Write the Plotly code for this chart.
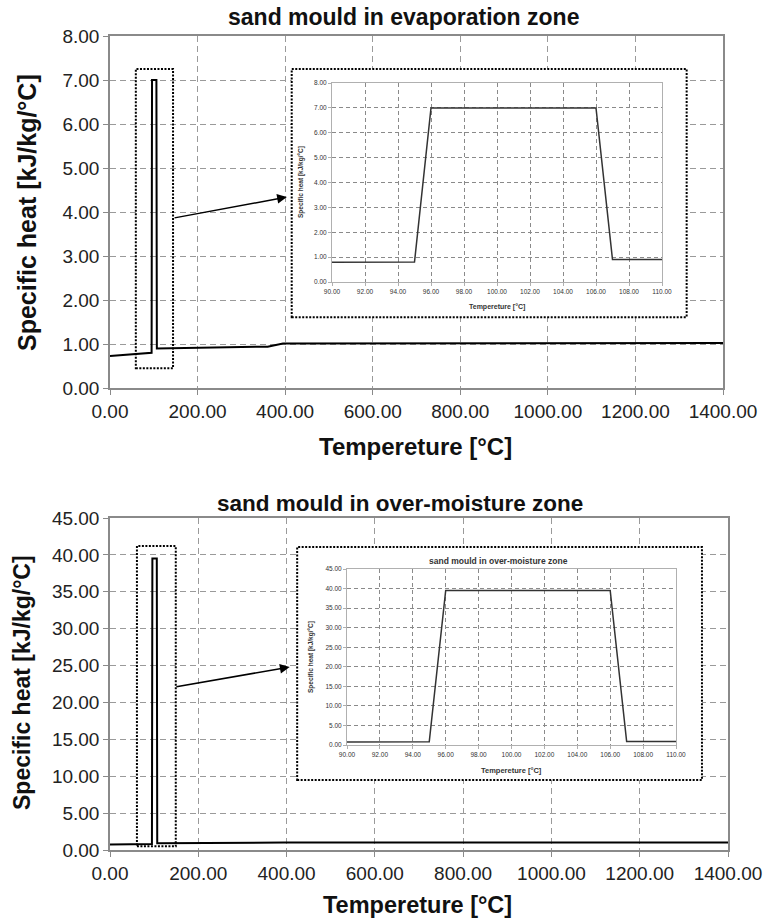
import plotly.graph_objects as go

# Specific heat of the sand mould vs temperature
temperature = [0, 95, 96, 106, 107, 360, 395, 1400]
cp_evaporation = [0.73, 0.80, 7.00, 7.00, 0.90, 0.94, 1.01, 1.02]
cp_over_moisture = [0.73, 0.80, 39.50, 39.50, 0.90, 0.94, 1.01, 1.02]

main_x_ticks = [0, 200, 400, 600, 800, 1000, 1200, 1400]
zoom_x_ticks = [90, 92, 94, 96, 98, 100, 102, 104, 106, 108, 110]

title_top = "sand mould in evaporation zone"
title_bottom = "sand mould in over-moisture zone"
x_title = "Tempereture [°C]"
y_title = "Specific heat [kJ/kg/°C]"

W, H = 765, 919
FONT = "Liberation Sans, Arial, sans-serif"


def px_x(p):
    return p / W


def px_y(p):
    return 1 - p / H


fig = go.Figure()

fig.add_trace(go.Scatter(x=temperature, y=cp_evaporation, mode="lines",
                         line=dict(color="black", width=2), xaxis="x", yaxis="y"))
fig.add_trace(go.Scatter(x=temperature, y=cp_over_moisture, mode="lines",
                         line=dict(color="black", width=2), xaxis="x2", yaxis="y2"))
fig.add_trace(go.Scatter(x=temperature, y=cp_evaporation, mode="lines",
                         line=dict(color="#333333", width=1.5), xaxis="x3", yaxis="y3"))
fig.add_trace(go.Scatter(x=temperature, y=cp_over_moisture, mode="lines",
                         line=dict(color="#333333", width=1.5), xaxis="x4", yaxis="y4"))

main_axis = dict(showgrid=True, gridcolor="#9a9a9a", griddash="6px,4px", gridwidth=1,
                 showline=True, linecolor="#8a8a8a", linewidth=1.5, mirror=True,
                 ticks="outside", ticklen=5, tickcolor="#8a8a8a", zeroline=False,
                 automargin=False, tickformat=".2f",
                 tickfont=dict(family=FONT, size=19, color="#222"))
zoom_axis = dict(showgrid=True, gridcolor="#8a8a8a", griddash="4px,3px", gridwidth=1,
                 showline=True, linecolor="#b0b0b0", linewidth=1, mirror=True,
                 ticks="outside", ticklen=3, tickcolor="#b0b0b0", zeroline=False,
                 automargin=False, tickformat=".2f",
                 tickfont=dict(family=FONT, size=6.5, color="#333"))

fig.update_layout(
    width=W, height=H, margin=dict(l=0, r=0, t=0, b=0, pad=0, autoexpand=False),
    paper_bgcolor="white", plot_bgcolor="white", showlegend=False,
    xaxis=dict(main_axis, domain=[px_x(110), px_x(723)], range=[0, 1400],
               tickvals=main_x_ticks, anchor="y"),
    yaxis=dict(main_axis, domain=[px_y(388), px_y(36)], range=[0, 8], dtick=1, anchor="x"),
    xaxis2=dict(main_axis, domain=[px_x(110), px_x(728)], range=[0, 1400],
                tickvals=main_x_ticks, anchor="y2"),
    yaxis2=dict(main_axis, domain=[px_y(850), px_y(518)], range=[0, 45], dtick=5, anchor="x2"),
    xaxis3=dict(zoom_axis, domain=[px_x(332), px_x(662)], range=[90, 110],
                tickvals=zoom_x_ticks, anchor="y3"),
    yaxis3=dict(zoom_axis, domain=[px_y(282), px_y(83)], range=[0, 8], dtick=1, anchor="x3"),
    xaxis4=dict(zoom_axis, domain=[px_x(347), px_x(676)], range=[90, 110],
                tickvals=zoom_x_ticks, anchor="y4"),
    yaxis4=dict(zoom_axis, domain=[px_y(745), px_y(569)], range=[0, 45], dtick=5, anchor="x4"),
)

dotted = dict(color="black", width=2, dash="2px,1.5px")

# framed zoom panels (white, covering the main grid) and the frames around the peak
fig.add_shape(type="rect", xref="x", yref="y", x0=415, x1=1317, y0=1.61, y1=7.25,
              fillcolor="white", line=dotted, layer="between")
fig.add_shape(type="rect", xref="x2", yref="y2", x0=424, x1=1341, y0=9.5, y1=41.07,
              fillcolor="white", line=dotted, layer="between")
fig.add_shape(type="rect", xref="x", yref="y", x0=59, x1=144, y0=0.45, y1=7.25,
              line=dotted, layer="above")
fig.add_shape(type="rect", xref="x2", yref="y2", x0=61, x1=149, y0=0.5, y1=41.2,
              line=dotted, layer="above")

annotations = [
    dict(x=404, y=4.34, xref="x", yref="y", ax=144, ay=3.86, axref="x", ayref="y",
         showarrow=True, arrowhead=2, arrowsize=1.3, arrowwidth=1.5, arrowcolor="black", text=""),
    dict(x=407, y=24.8, xref="x2", yref="y2", ax=147, ay=22.1, axref="x2", ayref="y2",
         showarrow=True, arrowhead=2, arrowsize=1.3, arrowwidth=1.5, arrowcolor="black", text=""),
]


def label(text, x, y, size, bold=True, angle=0, color="#111"):
    t = f"<b>{text}</b>" if bold else text
    return dict(text=t, x=px_x(x), y=px_y(y), xref="paper", yref="paper",
                xanchor="center", yanchor="middle", showarrow=False, textangle=angle,
                font=dict(family=FONT, size=size, color=color))


annotations += [
    label(title_top, 403, 17, 23),
    label(x_title, 416, 446, 24),
    label(y_title, 27, 213, 25, angle=-90),
    label(title_bottom, 400, 503, 22.5),
    label(x_title, 418, 905, 23.5),
    label(y_title, 22, 683, 23, angle=-90),
    # zoom panel labels
    label(x_title, 497, 307, 7, color="#333"),
    label(y_title, 301, 182, 6.5, angle=-90, color="#333"),
    label(title_bottom, 498, 561, 8.5, color="#333"),
    label(x_title, 512, 770, 7.5, color="#333"),
    label(y_title, 311, 657, 6.5, angle=-90, color="#333"),
]
fig.update_layout(annotations=annotations)

fig.write_html("out.html")
